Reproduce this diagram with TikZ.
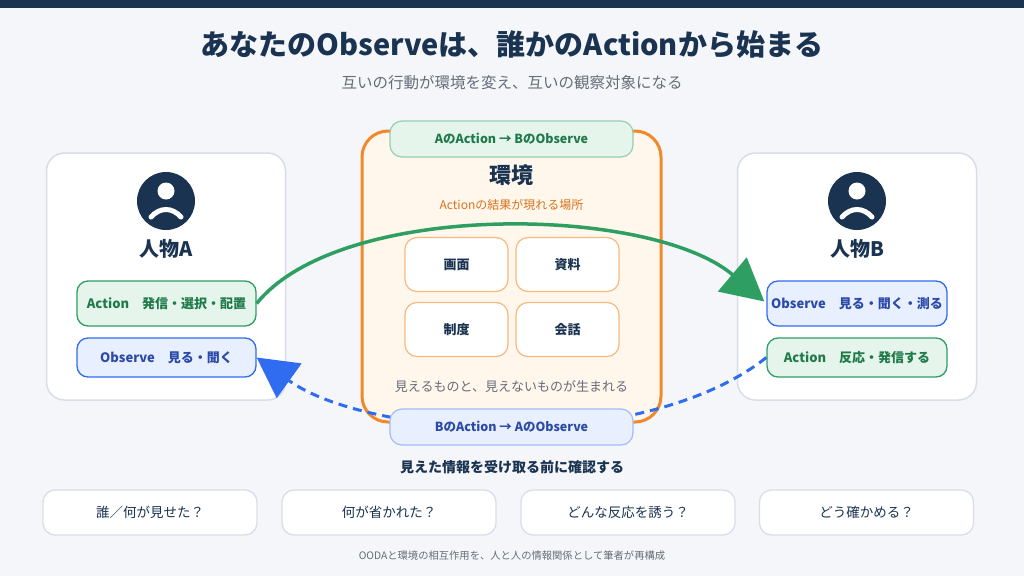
\documentclass[tikz,border=0pt]{standalone}
\usepackage{fontspec}
\setmainfont{Noto Sans CJK JP}
\usetikzlibrary{arrows.meta}
\definecolor{navy}{HTML}{1A3350}
\definecolor{bg}{HTML}{F4F6FA}
\definecolor{gborder}{HTML}{D8DEE8}
\definecolor{grn}{HTML}{2E9E63}
\definecolor{grnfill}{HTML}{E6F5EC}
\definecolor{grntext}{HTML}{1F7A4A}
\definecolor{blu}{HTML}{2F6CF0}
\definecolor{blufill}{HTML}{E8EFFF}
\definecolor{blutext}{HTML}{2B4AA8}
\definecolor{org}{HTML}{F0892A}
\definecolor{orgfill}{HTML}{FFF6EC}
\definecolor{orgtext}{HTML}{D9731A}
\definecolor{gtext}{HTML}{666D78}
\begin{document}
\begin{tikzpicture}[x=1pt,y=-1pt,
 card/.style={draw=gborder,line width=1.5pt,fill=white,rounded corners=18pt,inner sep=0},
 gbox/.style={draw=grn,line width=1.3pt,fill=grnfill,rounded corners=11pt,text=grntext,font=\bfseries\fontsize{13}{15}\selectfont},
 bbox/.style={draw=blu,line width=1.3pt,fill=blufill,rounded corners=11pt,text=blutext,font=\bfseries\fontsize{13}{15}\selectfont},
 gtag/.style={draw=grn!50,line width=1.2pt,fill=grnfill,rounded corners=12pt,text=grntext,font=\bfseries\fontsize{12.5}{14}\selectfont},
 btag/.style={draw=blu!45,line width=1.2pt,fill=blufill,rounded corners=12pt,text=blutext,font=\bfseries\fontsize{12.5}{14}\selectfont},
 ibox/.style={draw=org!60,line width=1.2pt,fill=white,rounded corners=12pt,text=navy,font=\bfseries\fontsize{13}{15}\selectfont},
 qbox/.style={draw=gborder,line width=1.3pt,fill=white,rounded corners=12pt,text=navy,font=\fontsize{13.5}{15}\selectfont},
 lbl/.style={inner sep=0,text=navy}]
\fill[bg] (0,0) rectangle (1024,576);
\fill[navy] (0,0) rectangle (1024,8);
\useasboundingbox (0,0) rectangle (1024,576);
\node[lbl,font=\bfseries\fontsize{29}{32}\selectfont] (title) at (512,45) {あなたのObserveは、誰かのActionから始まる};
\node[lbl,text=gtext,font=\fontsize{15.5}{17}\selectfont] (sub) at (512,83) {互いの行動が環境を変え、互いの観察対象になる};
% cards
\foreach \n/\cx/\who in {A/166/人物A,B/857/人物B}{
 \node[card,minimum width=239pt,minimum height=247pt] (card\n) at (\cx,276.5) {};
 \fill[navy] (\cx,201) circle (29);
 \fill[white] (\cx,191) circle (8.5);
 \draw[white,line width=5pt,line cap=round] (\cx-15,217) .. controls (\cx-6,207) and (\cx+6,207) .. (\cx+15,217);
 \node[lbl,font=\bfseries\fontsize{20}{22}\selectfont] (name\n) at (\cx,249) {\who};
}
\node[gbox,minimum width=179pt,minimum height=45pt,inner sep=0] (actA) at (166.5,303.5) {Action\quad 発信・選択・配置};
\node[bbox,minimum width=179pt,minimum height=39pt,inner sep=0] (obsA) at (166.5,357.5) {Observe\quad 見る・聞く};
\node[bbox,minimum width=180pt,minimum height=45pt,inner sep=0] (obsB) at (857,303.5) {Observe\quad 見る・聞く・測る};
\node[gbox,minimum width=180pt,minimum height=39pt,inner sep=0] (actB) at (857,357.5) {Action\quad 反応・発信する};
% environment
\node[draw=org,line width=3pt,fill=orgfill,rounded corners=26pt,minimum width=299pt,minimum height=291pt,inner sep=0] (env) at (511.5,276.5) {};
\node[lbl,font=\bfseries\fontsize{22}{24}\selectfont] (envt) at (511.5,175) {環境};
\node[lbl,text=orgtext,font=\fontsize{12}{14}\selectfont] (envs) at (511.5,205) {Actionの結果が現れる場所};
\node[ibox,minimum width=103pt,minimum height=54pt,inner sep=0] (i1) at (456.5,264.5) {画面};
\node[ibox,minimum width=103pt,minimum height=54pt,inner sep=0] (i2) at (567.5,264.5) {資料};
\node[ibox,minimum width=103pt,minimum height=54pt,inner sep=0] (i3) at (456.5,329.5) {制度};
\node[ibox,minimum width=103pt,minimum height=54pt,inner sep=0] (i4) at (567.5,329.5) {会話};
\node[lbl,text=gtext,font=\fontsize{13}{15}\selectfont] (envn) at (511.5,387) {見えるものと、見えないものが生まれる};
% blue dashed connector
\draw[blu,line width=3pt,dash pattern=on 9pt off 6pt,-{Triangle[length=40pt 0,width=42pt 0]}]
 (actB.west) .. controls (700,410) and (590,428) .. (511,428) .. controls (420,428) and (330,410) .. (obsA.east);
\node[gtag,minimum width=243pt,minimum height=36pt,inner sep=0] (tagT) at (511.5,139) {AのAction → BのObserve};
\node[btag,minimum width=243pt,minimum height=36pt,inner sep=0] (tagB) at (511.5,427) {BのAction → AのObserve};
% green connector
\draw[grn,line width=3.5pt,-{Triangle[length=42pt 0,width=44pt 0]}]
 (actA.east) .. controls (340,200) and (650,205) .. ([xshift=-2pt,yshift=2pt]obsB.west);
% bottom
\node[lbl,font=\bfseries\fontsize{14}{16}\selectfont] (q) at (512,467) {見えた情報を受け取る前に確認する};
\node[qbox,minimum width=214pt,minimum height=45pt,inner sep=0] (q1) at (150,512.5) {誰／何が見せた？};
\node[qbox,minimum width=214pt,minimum height=45pt,inner sep=0] (q2) at (389,512.5) {何が省かれた？};
\node[qbox,minimum width=214pt,minimum height=45pt,inner sep=0] (q3) at (628,512.5) {どんな反応を誘う？};
\node[qbox,minimum width=214pt,minimum height=45pt,inner sep=0] (q4) at (866.5,512.5) {どう確かめる？};
\node[lbl,text=gtext,font=\fontsize{10.3}{12}\selectfont] (foot) at (512,556) {OODAと環境の相互作用を、人と人の情報関係として筆者が再構成};
\end{tikzpicture}
\end{document}
